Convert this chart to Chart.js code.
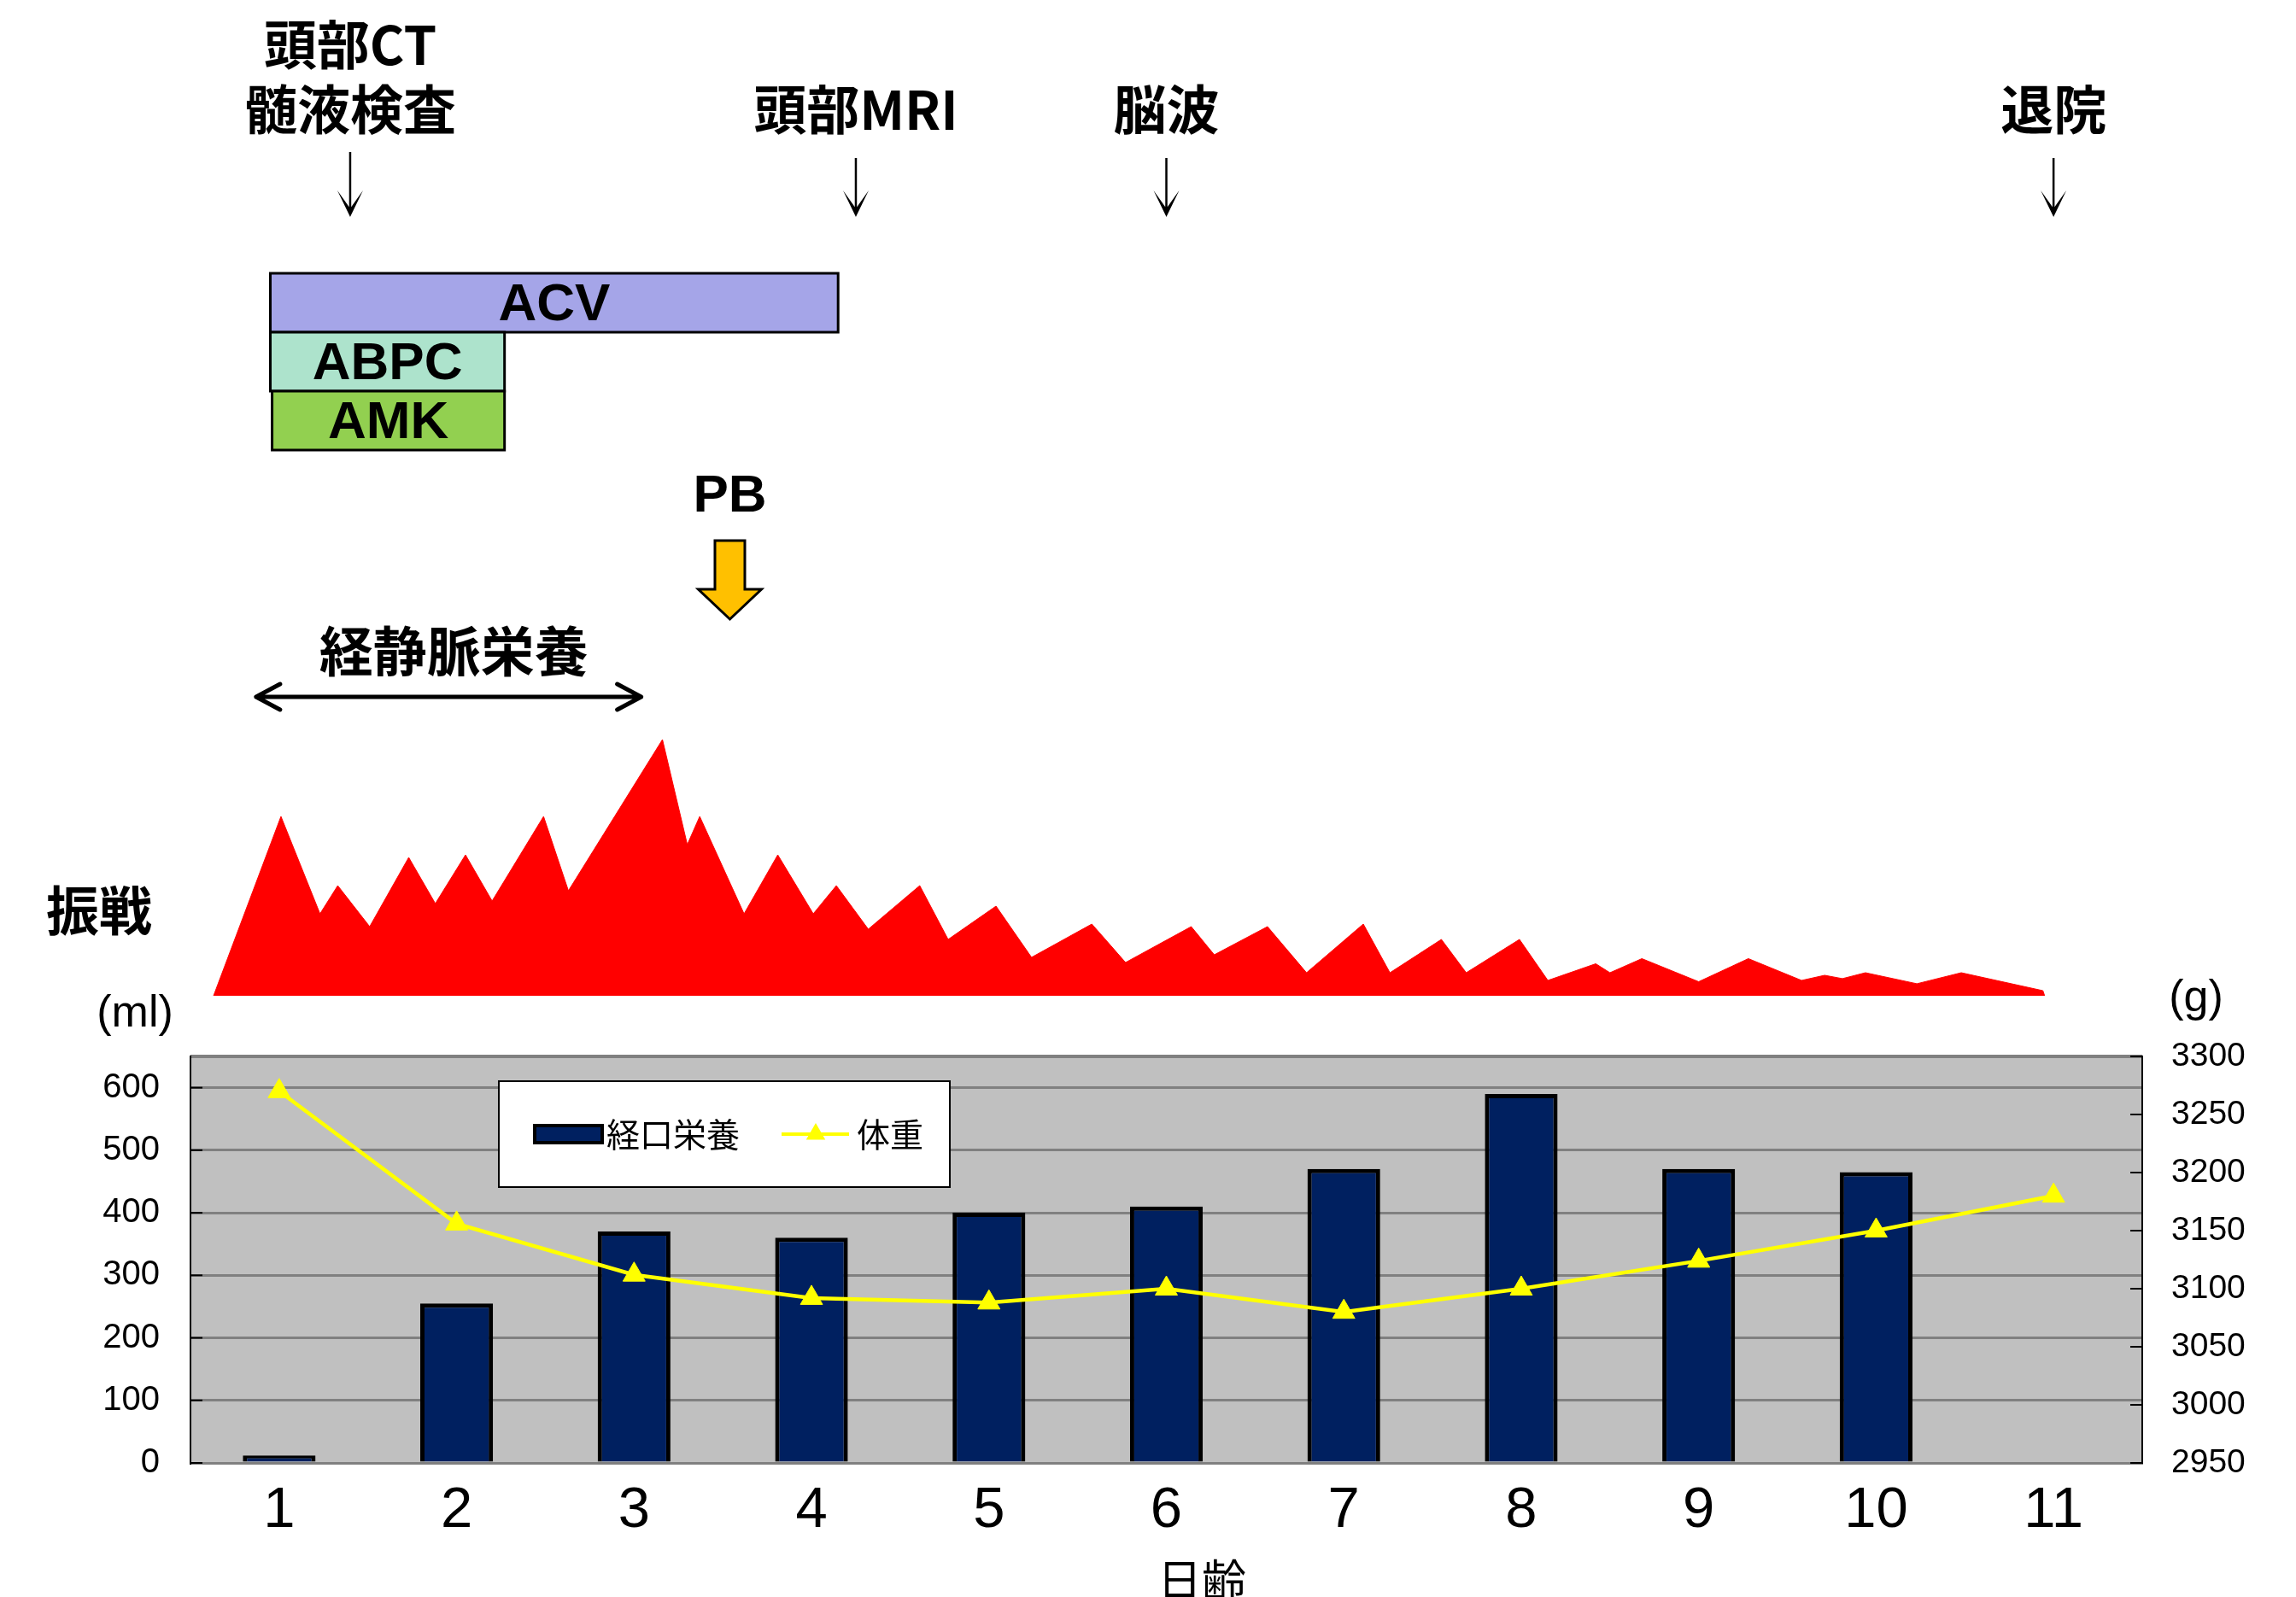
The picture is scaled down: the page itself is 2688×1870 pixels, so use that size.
<!DOCTYPE html>
<html lang="ja">
<head>
<meta charset="utf-8">
<title>経過表</title>
<script src="https://cdn.jsdelivr.net/npm/chart.js@4.4.1/dist/chart.umd.min.js"></script>
<style>
  html, body { margin: 0; padding: 0; background: #ffffff; }
  #wrap { position: relative; width: 2688px; height: 1870px; overflow: hidden; background: #ffffff; }
  #course { position: absolute; left: 0; top: 0; }
  #intake { position: absolute; left: 0; top: 1130px; }
</style>
</head>
<body>
<div id="wrap">
  <canvas id="course" width="2688" height="1180"></canvas>
  <canvas id="intake" width="2688" height="740"></canvas>
</div>
<script>
// ---- data -------------------------------------------------------------
const dayLabels = ['1', '2', '3', '4', '5', '6', '7', '8', '9', '10', '11'];
const oralIntake = [12, 255, 370, 360, 400, 410, 470, 590, 470, 465, null];   // ml
const bodyWeight = [3270, 3156, 3112, 3092, 3088, 3100, 3080, 3100, 3124, 3150, 3180]; // g
const intakeTicks = [0, 100, 200, 300, 400, 500, 600];
const weightTicks = [2950, 3000, 3050, 3100, 3150, 3200, 3250, 3300];

// tremor intensity over time (day, relative level)
const tremorDay = [0.63, 1.01, 1.23, 1.33, 1.51, 1.73, 1.88, 2.05, 2.20, 2.49, 2.63, 3.16, 3.30, 3.37,
  3.62, 3.81, 4.01, 4.14, 4.32, 4.61, 4.77, 5.04, 5.24, 5.58, 5.77, 6.14, 6.27, 6.57, 6.79, 7.11,
  7.26, 7.55, 7.69, 7.99, 8.15, 8.42, 8.50, 8.68, 9.00, 9.28, 9.58, 9.71, 9.81, 9.94, 10.23, 10.48,
  10.94, 10.95];
const tremorLevel = [0, 70, 32, 43, 27, 54, 36, 55, 37, 70, 41, 100, 59, 70,
  32, 55, 32, 43, 26, 43, 22, 35, 15, 28, 13, 27, 16, 27, 9, 28,
  9, 22, 9, 22, 6, 12.5, 9, 14.5, 5.5, 14.5, 6, 8, 6.7, 9, 4.7, 9,
  2, 0];

// clinical events (day of each)
const eventLabels = [['頭部CT', '髄液検査'], ['頭部MRI'], ['脳波'], ['退院']];
const eventDays = [1.4, 4.25, 6.0, 11.0];

// antimicrobial courses
const drugNames = ['ACV', 'ABPC', 'AMK'];
const drugStart = [0.95, 0.95, 0.96];
const drugEnd = [4.15, 2.27, 2.27];

const pbDay = 3.54;                 // phenobarbital start
const ivNutritionDays = [0.87, 3.04];

// ---- styles -----------------------------------------------------------
const drugColors = ['#A5A5E8', '#ADE3CC', '#92D050'];
const JP = '"Noto Sans CJK JP", "Noto Sans", sans-serif';
const LAT = '"Liberation Sans", Arial, sans-serif';

// ---- upper panel: timeline + tremor ----------------------------------
const timelinePlugin = {
  id: 'timeline',
  afterDraw(chart) {
    const ctx = chart.ctx;
    const xs = chart.scales.x;
    const px = d => xs.getPixelForValue(d);
    ctx.save();
    ctx.fillStyle = '#000';
    ctx.strokeStyle = '#000';

    // events: labels with down arrows
    ctx.textAlign = 'center';
    ctx.textBaseline = 'middle';
    ctx.font = 'bold 62px ' + JP;
    eventLabels.forEach((lines, i) => {
      const x = px(eventDays[i]);
      lines.forEach((t, k) => {
        const y = 128 - (lines.length - 1 - k) * 76;
        ctx.fillText(t, x, y);
      });
      const y0 = lines.length > 1 ? 178 : 185;
      const y1 = 254;
      ctx.lineWidth = 2.5;
      ctx.beginPath();
      ctx.moveTo(x, y0);
      ctx.lineTo(x, y1 - 8);
      ctx.stroke();
      ctx.beginPath();
      ctx.moveTo(x, y1);
      ctx.lineTo(x - 15, y1 - 31);
      ctx.lineTo(x - 1.5, y1 - 12);
      ctx.lineTo(x + 1.5, y1 - 12);
      ctx.lineTo(x + 15, y1 - 31);
      ctx.closePath();
      ctx.fill();
    });

    // drug courses
    drugNames.forEach((name, i) => {
      const xa = px(drugStart[i]);
      const xb = px(drugEnd[i]);
      const top = 320 + i * 69;
      const h = 69;
      ctx.fillStyle = drugColors[i];
      ctx.fillRect(xa, top, xb - xa, h);
      ctx.lineWidth = 3;
      ctx.strokeStyle = '#000';
      ctx.strokeRect(xa, top, xb - xa, h);
      ctx.fillStyle = '#000';
      ctx.font = 'bold 62px ' + LAT;
      ctx.fillText(name, (xa + xb) / 2, top + h / 2 + 3);
    });

    // PB arrow
    const xp = px(pbDay);
    ctx.font = 'bold 62px ' + LAT;
    ctx.fillText('PB', xp, 582);
    ctx.beginPath();
    ctx.moveTo(xp - 17.5, 633);
    ctx.lineTo(xp + 17.5, 633);
    ctx.lineTo(xp + 17.5, 690);
    ctx.lineTo(xp + 37, 690);
    ctx.lineTo(xp, 725);
    ctx.lineTo(xp - 37, 690);
    ctx.lineTo(xp - 17.5, 690);
    ctx.closePath();
    ctx.fillStyle = '#FFC000';
    ctx.fill();
    ctx.lineWidth = 3;
    ctx.strokeStyle = '#000';
    ctx.stroke();

    // intravenous nutrition span
    const xa = px(ivNutritionDays[0]);
    const xb = px(ivNutritionDays[1]);
    const ya = 816;
    ctx.fillStyle = '#000';
    ctx.font = 'bold 63px ' + JP;
    ctx.fillText('経静脈栄養', (xa + xb) / 2 + 6, 762);
    ctx.lineWidth = 5;
    ctx.lineCap = 'round';
    ctx.lineJoin = 'round';
    ctx.beginPath();
    ctx.moveTo(xa, ya);
    ctx.lineTo(xb, ya);
    ctx.moveTo(xa + 28, ya - 15);
    ctx.lineTo(xa, ya);
    ctx.lineTo(xa + 28, ya + 15);
    ctx.moveTo(xb - 28, ya - 15);
    ctx.lineTo(xb, ya);
    ctx.lineTo(xb - 28, ya + 15);
    ctx.stroke();

    // tremor row label
    ctx.font = 'bold 62px ' + JP;
    ctx.fillText('振戦', 116, 1066);
    ctx.restore();
  }
};

new Chart(document.getElementById('course'), {
  type: 'line',
  data: {
    datasets: [{
      label: '振戦',
      data: tremorDay.map((d, i) => ({ x: d, y: tremorLevel[i] })),
      fill: 'origin',
      backgroundColor: '#FF0000',
      borderColor: '#FF0000',
      borderWidth: 1,
      pointRadius: 0,
      tension: 0,
      clip: false
    }]
  },
  options: {
    responsive: false,
    animation: false,
    devicePixelRatio: 1,
    layout: { padding: { left: 223, right: 180, top: 866, bottom: 14 } },
    scales: {
      x: { type: 'linear', min: 0.5, max: 11.5, display: false },
      y: { min: 0, max: 100, display: false }
    },
    plugins: { legend: { display: false }, tooltip: { enabled: false } }
  },
  plugins: [timelinePlugin]
});

// ---- lower panel: oral intake and body weight -----------------------
const panelPlugin = {
  id: 'panel',
  beforeDraw(chart) {
    const { ctx, chartArea: a } = chart;
    ctx.save();
    ctx.fillStyle = '#C0C0C0';
    ctx.fillRect(a.left, a.top, a.right - a.left, a.bottom - a.top);
    ctx.strokeStyle = '#808080';
    ctx.lineWidth = 4;
    ctx.beginPath();
    ctx.moveTo(a.left, a.top);
    ctx.lineTo(a.right, a.top);
    ctx.stroke();
    ctx.restore();
  },
  afterDraw(chart) {
    const { ctx, chartArea: a, scales } = chart;
    ctx.save();
    // inner tick marks
    ctx.strokeStyle = '#000';
    ctx.lineWidth = 2;
    weightTicks.forEach(v => {
      const y = scales.y1.getPixelForValue(v);
      ctx.beginPath();
      ctx.moveTo(a.right - 14, y);
      ctx.lineTo(a.right, y);
      ctx.stroke();
    });
    intakeTicks.forEach(v => {
      const y = scales.y.getPixelForValue(v);
      ctx.beginPath();
      ctx.moveTo(a.left, y);
      ctx.lineTo(a.left + 14, y);
      ctx.stroke();
    });

    // unit labels and axis title
    ctx.fillStyle = '#000';
    ctx.textAlign = 'center';
    ctx.textBaseline = 'middle';
    ctx.font = '52px ' + LAT;
    ctx.fillText('(ml)', 158, a.top - 49);
    ctx.fillText('(g)', 2571, a.top - 67);
    ctx.font = '52px ' + JP;
    ctx.fillText('日齢', 1407, a.bottom + 137);

    // legend box
    const bx = a.left + 361, by = a.top + 29, bw = 528, bh = 124;
    ctx.fillStyle = '#fff';
    ctx.fillRect(bx, by, bw, bh);
    ctx.strokeStyle = '#000';
    ctx.lineWidth = 2;
    ctx.strokeRect(bx, by, bw, bh);
    const cy = by + bh / 2;
    const ds = chart.data.datasets;
    ctx.fillStyle = ds[0].backgroundColor;
    ctx.fillRect(bx + 42, cy - 10, 79, 20);
    ctx.lineWidth = 4;
    ctx.strokeRect(bx + 42, cy - 10, 79, 20);
    ctx.fillStyle = '#000';
    ctx.textAlign = 'left';
    ctx.font = '39px ' + JP;
    ctx.fillText(ds[0].label, bx + 126, cy);
    ctx.strokeStyle = ds[1].borderColor;
    ctx.lineWidth = 4;
    ctx.beginPath();
    ctx.moveTo(bx + 331, cy);
    ctx.lineTo(bx + 410, cy);
    ctx.stroke();
    const tx = bx + 371, r = 13;
    ctx.fillStyle = ds[1].backgroundColor;
    ctx.beginPath();
    ctx.moveTo(tx, cy - r);
    ctx.lineTo(tx + r * 0.866, cy + r / 2);
    ctx.lineTo(tx - r * 0.866, cy + r / 2);
    ctx.closePath();
    ctx.fill();
    ctx.fillStyle = '#000';
    ctx.fillText(ds[1].label, bx + 419, cy);
    ctx.restore();
  }
};

new Chart(document.getElementById('intake'), {
  type: 'bar',
  data: {
    labels: dayLabels,
    datasets: [
      {
        type: 'bar',
        label: '経口栄養',
        data: oralIntake,
        yAxisID: 'y',
        backgroundColor: '#002060',
        borderColor: '#000000',
        borderWidth: 5,
        barPercentage: 0.41,
        categoryPercentage: 1,
        order: 1
      },
      {
        type: 'line',
        label: '体重',
        data: bodyWeight,
        yAxisID: 'y1',
        borderColor: '#FFFF00',
        backgroundColor: '#FFFF00',
        borderWidth: 4.5,
        tension: 0,
        pointStyle: 'triangle',
        pointRadius: 15,
        pointBackgroundColor: '#FFFF00',
        pointBorderColor: '#FFFF00',
        pointBorderWidth: 1,
        fill: false,
        order: 0
      }
    ]
  },
  options: {
    responsive: false,
    animation: false,
    devicePixelRatio: 1,
    layout: { padding: { left: 0, right: 0, top: 107, bottom: 0 } },
    scales: {
      x: {
        grid: { display: false, drawTicks: false },
        border: { display: true, color: '#808080', width: 3 },
        ticks: { color: '#000', font: { family: LAT, size: 67 }, padding: 16, maxRotation: 0, autoSkip: false },
        afterFit(s) { s.height = 157; }
      },
      y: {
        position: 'left',
        min: 0,
        max: 650,
        afterBuildTicks(s) { s.ticks = intakeTicks.map(v => ({ value: v })); },
        grid: { color: '#808080', lineWidth: 3, drawTicks: false },
        border: { display: true, color: '#000', width: 2 },
        ticks: { color: '#000', font: { family: LAT, size: 40 }, padding: 36, callback: v => String(v) },
        afterFit(s) { s.width = 223; }
      },
      y1: {
        position: 'right',
        min: 2950,
        max: 3300,
        afterBuildTicks(s) { s.ticks = weightTicks.map(v => ({ value: v })); },
        grid: { display: false, drawTicks: false },
        border: { display: true, color: '#000', width: 2 },
        ticks: { color: '#000', font: { family: LAT, size: 39 }, padding: 34, callback: v => String(v) },
        afterFit(s) { s.width = 180; }
      }
    },
    plugins: { legend: { display: false }, tooltip: { enabled: false } }
  },
  plugins: [panelPlugin]
});
</script>
</body>
</html>
